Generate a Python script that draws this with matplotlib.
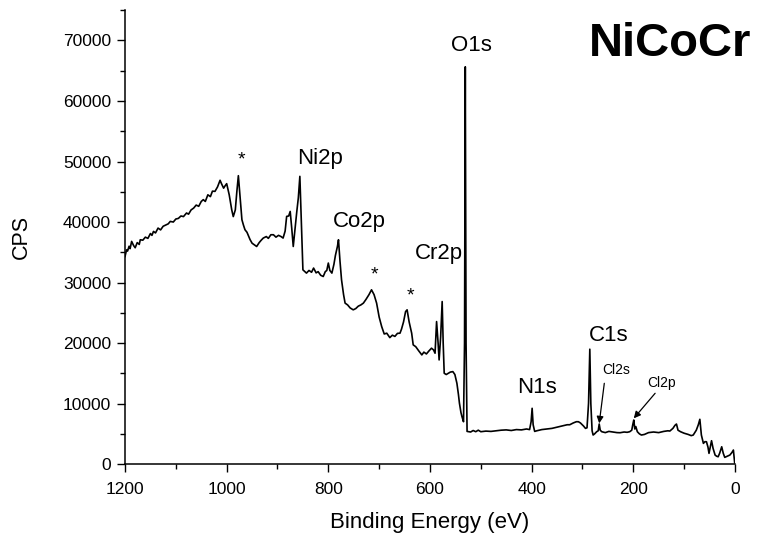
import matplotlib
matplotlib.use("Agg")
import matplotlib.pyplot as plt
from matplotlib.ticker import MultipleLocator

plt.rcParams['font.family'] = ['Liberation Sans', 'DejaVu Sans']

# Binding energy (eV) and counts per second
energy = [1200, 1197, 1195, 1192, 1190, 1187, 1183, 1180, 1176, 1172, 1170, 1165, 1160, 1155, 1150, 1147, 1144,
          1140, 1135, 1130, 1125, 1120, 1115, 1111, 1105, 1100, 1095, 1090, 1085, 1079, 1075,
          1070, 1065, 1060, 1055, 1050, 1046, 1042, 1037, 1032, 1028, 1023, 1018, 1013, 1010,
          1006, 1003, 1000, 995, 990, 987, 983, 980, 977, 974, 970, 967, 964, 960, 954, 950,
          945, 941, 936, 932, 928, 922, 918, 913, 908, 903, 898, 893, 889, 885, 882, 878, 875,
          872, 869, 866, 862, 859, 856, 853, 850, 846, 843, 838, 833, 829, 824, 820, 815, 810,
          806, 803, 800, 797, 793, 789, 786, 782, 780, 777, 774, 770, 767, 762, 757, 751, 746,
          741, 736, 731, 726, 720, 715, 710, 705, 700, 695, 690, 685, 679, 674, 669, 664, 659,
          656, 652, 648, 645, 641, 636, 633, 628, 622, 616, 612, 607, 602, 597, 593, 590, 587,
          584, 582, 579, 576, 574, 572, 568, 564, 560, 555, 551, 547, 544, 542, 539, 537, 534,
          532, 530.5, 529, 527, 520, 515, 510, 505, 500, 490, 480, 470, 460, 450, 440, 430, 420, 410, 404,
          401, 399, 397, 394, 390, 380, 370, 360, 350, 340, 330, 325, 318, 312, 308, 304, 298,
          294, 291, 288, 285.5, 283.5, 281, 279, 276, 272, 269, 267, 265, 262, 255, 248, 240,
          232, 226, 218, 212, 207, 203, 201, 199, 197, 195, 192, 188, 184, 178, 170, 160, 150,
          140, 132, 128, 122, 118, 115, 112, 107, 100, 92, 86, 82, 76, 72, 69, 66, 62, 59, 56,
          53, 51, 48, 46, 43, 39, 36, 33, 30, 26, 23, 20, 15, 10, 6, 3, 0.5]
cps = [34300, 35400, 35200, 36000, 35600, 36800, 36100, 35750, 36600, 36300, 37070, 37000, 37500, 37300, 38100, 37800, 38450,
       38200, 39000, 38700, 39300, 39500, 39700, 40100, 40000, 40500, 40600, 41000, 40900, 41490, 41300,
       42000, 42300, 42800, 42600, 43400, 43700, 43400, 44500, 44200, 45100, 45070, 45800, 46900, 46300,
       45600, 46000, 46340, 44500, 42000, 40900, 42000, 45000, 47660, 44500, 40380, 39500, 38730, 38300, 37100, 36500,
       36200, 35960, 36600, 37000, 37350, 37600, 37300, 37900, 37900, 37500, 37800, 37600, 37350, 38500, 40930, 41000, 41750,
       39000, 35960, 38500, 41750, 44000, 47550, 40000, 32100, 31800, 31560, 32000, 31700, 32390, 31600, 31800, 31200, 31000,
       31800, 32000, 33220, 32000, 31560, 33000, 34500, 36000, 37070, 33500, 30450, 28000, 26600, 26300, 25800, 25490, 25700,
       26100, 26300, 26600, 27200, 28000, 28800, 28000, 26600, 24300, 22720, 21500, 21630, 20900, 21300, 21100, 21600, 21630,
       22300, 23500, 25200, 25490, 23500, 21630, 19700, 19400, 18700, 18040, 18500, 18200, 18700, 19150, 18870, 18320, 23550,
       20000, 17210, 21000, 26860, 20000, 15010, 14800, 15010, 15200, 15280, 14800, 13350, 11500, 10050, 8500, 7830, 7000,
       20000, 65650, 20000, 5400, 5300, 5550, 5350, 5600, 5350, 5450, 5400, 5500, 5600, 5650, 5550, 5700, 5650, 5800, 5700,
       7000, 9220, 6500, 5400, 5500, 5700, 5800, 5900, 6100, 6300, 6500, 6500, 6800, 7000, 7000, 6800, 6300,
       5900, 6000, 10050, 18980, 10000, 5500, 4800, 5000, 5350, 5500, 6620, 5600, 5350, 5200, 5400, 5300,
       5200, 5180, 5300, 5250, 5350, 5600, 6500, 7280, 5800, 6200, 5350, 5000, 4800, 4900, 5200, 5300, 5200,
       5400, 5500, 5460, 5900, 6400, 6620, 5600, 5350, 5100, 4900, 4700, 4800, 5600, 6500, 7400, 4800, 3420, 3700, 3690,
       2800, 1770, 3000, 3860, 2600, 1490, 1300, 1210, 1800, 2860, 1800, 1110, 1300, 1490, 1900, 2320, 200]

# Peak labels (text, energy, cps)
peak_labels = ["*", "Ni2p", "Co2p", "*", "*", "Cr2p", "O1s", "N1s", "C1s"]
label_energy = [970, 816, 738, 709, 639, 582, 518, 390, 248]
label_cps = [50200, 50480, 40130, 31300, 27700, 34840, 69180, 12580, 21230]

# Arrow annotations
arrow_labels = ["Cl2s", "Cl2p"]
arrow_text_energy = [233, 144]
arrow_text_cps = [15560, 13400]
arrow_tail_energy = [257, 157]
arrow_tail_cps = [13350, 11700]
arrow_head_energy = [267, 199]
arrow_head_cps = [6730, 7560]

fig = plt.figure(figsize=(7.6, 5.39), dpi=100)
ax = fig.add_axes([0.1645, 0.139, 0.8025, 0.842])

ax.plot(energy, cps, color='black', lw=1.2)

ax.set_xlim(1200, 0)
ax.set_ylim(0, 75000)
ax.xaxis.set_major_locator(MultipleLocator(200))
ax.xaxis.set_minor_locator(MultipleLocator(100))
ax.yaxis.set_major_locator(MultipleLocator(10000))
ax.yaxis.set_minor_locator(MultipleLocator(5000))

for s in ['top', 'right']:
    ax.spines[s].set_visible(False)
for s in ['left', 'bottom']:
    ax.spines[s].set_linewidth(1.1)

ax.tick_params(which='major', direction='out', length=6, width=1.0, labelsize=12.5)
ax.tick_params(which='minor', direction='out', length=3.5, width=1.0)
ax.tick_params(axis='x', which='major', pad=7)
ax.tick_params(axis='y', which='major', pad=4)

ax.set_xlabel("Binding Energy (eV)", fontsize=16, labelpad=11)
ax.set_ylabel("CPS", fontsize=15.5, labelpad=22)

for t, e, c in zip(peak_labels, label_energy, label_cps):
    ax.text(e, c, t, fontsize=16 if t != "*" else 14, ha='center', va='center')

for t, te, tc, ae, ac, he, hc in zip(arrow_labels, arrow_text_energy, arrow_text_cps,
                                      arrow_tail_energy, arrow_tail_cps,
                                      arrow_head_energy, arrow_head_cps):
    ax.text(te, tc, t, fontsize=10, ha='center', va='center')
    ax.annotate("", xy=(he, hc), xytext=(ae, ac),
                arrowprops=dict(arrowstyle='-|>', color='black', lw=0.9,
                                mutation_scale=10, shrinkA=0, shrinkB=0))

ax.text(0.893, 0.925, "NiCoCr", transform=ax.transAxes, fontsize=34,
        fontweight='bold', ha='center', va='center', clip_on=False)

fig.savefig("out.png", dpi=100)
